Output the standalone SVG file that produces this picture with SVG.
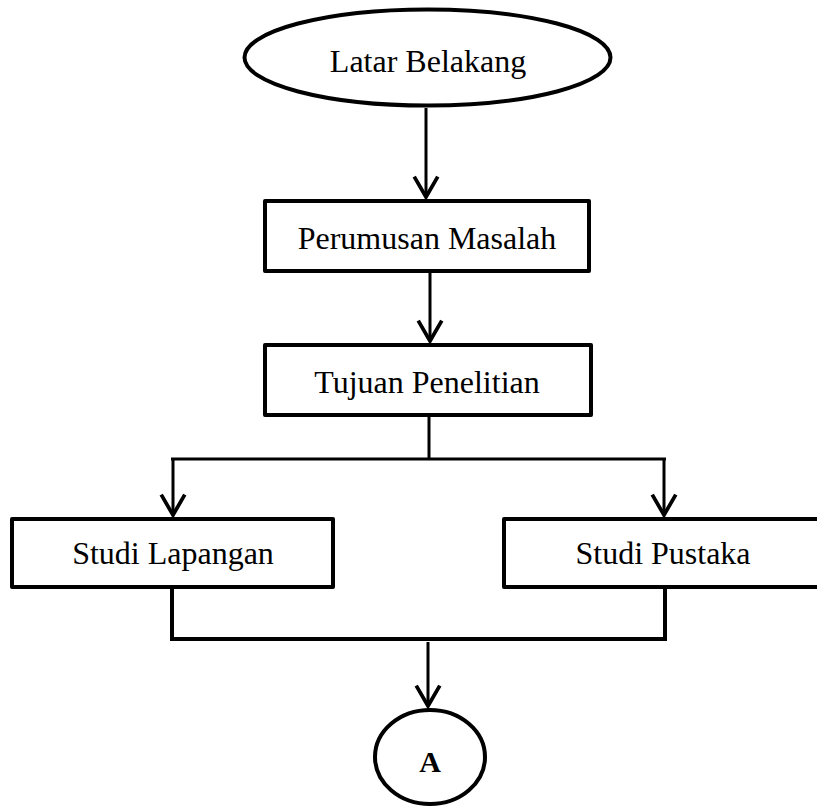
<svg xmlns="http://www.w3.org/2000/svg" width="817" height="809" viewBox="0 0 817 809">
  <defs>
    <style>
      .shape { fill: #ffffff; stroke: #000000; stroke-width: 4; stroke-linejoin: round; }
      .label { font-family: "Liberation Serif", "Times New Roman", serif; font-size: 32px; fill: #000000; text-anchor: middle; }
      .bold { font-weight: bold; font-size: 30px; }
      .wire { fill: none; stroke: #000000; stroke-width: 3; }
      .thick { stroke-width: 4; }
    </style>
    <marker id="vee" markerUnits="userSpaceOnUse" markerWidth="30" markerHeight="30" viewBox="-22 -14 26 28" refX="0" refY="0" orient="auto">
      <path d="M-19,-11 L0,0 L-19,11" fill="none" stroke="#000000" stroke-width="3.5" stroke-linejoin="miter"/>
    </marker>
  </defs>

  <rect width="817" height="809" fill="#ffffff"/>

  <g id="connectors">
    <path class="wire" d="M426,108 V197" marker-end="url(#vee)"/>
    <path class="wire" d="M430,273 V341" marker-end="url(#vee)"/>
    <path class="wire" d="M429,417 V459"/>
    <path class="wire" d="M171,459 H666"/>
    <path class="wire" d="M173,459 V515" marker-end="url(#vee)"/>
    <path class="wire" d="M664,459 V515" marker-end="url(#vee)"/>
    <path class="wire thick" d="M172,588 V639 H665 V588"/>
    <path class="wire" d="M428,642 V706" marker-end="url(#vee)"/>
  </g>

  <g id="latar-belakang">
    <ellipse class="shape" cx="427.5" cy="57.5" rx="183" ry="48"/>
    <text class="label" x="428" y="72">Latar Belakang</text>
  </g>

  <g id="perumusan-masalah">
    <rect class="shape" x="265" y="201" width="324" height="70"/>
    <text class="label" x="427" y="249">Perumusan Masalah</text>
  </g>

  <g id="tujuan-penelitian">
    <rect class="shape" x="265" y="345" width="326" height="70"/>
    <text class="label" x="427" y="393">Tujuan Penelitian</text>
  </g>

  <g id="studi-lapangan">
    <rect class="shape" x="12" y="519" width="321" height="68"/>
    <text class="label" x="173" y="564">Studi Lapangan</text>
  </g>

  <g id="studi-pustaka">
    <rect class="shape" x="504" y="519" width="330" height="68"/>
    <text class="label" x="663" y="564">Studi Pustaka</text>
  </g>

  <g id="connector-a">
    <ellipse class="shape" cx="430" cy="757" rx="55" ry="47"/>
    <text class="label bold" x="430" y="772">A</text>
  </g>
</svg>
